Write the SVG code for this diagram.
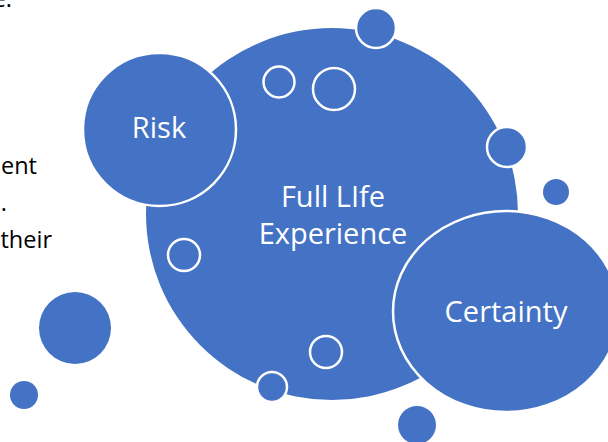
<svg xmlns="http://www.w3.org/2000/svg" width="608" height="442" viewBox="0 0 608 442">
  <style>
    .blob { fill: #4472C4; stroke: #FFFFFF; stroke-width: 2.5; }
    .ring { fill: none; stroke: #FFFFFF; stroke-width: 2.5; }
    .dot { fill: #4472C4; }
    .label { font-family: "Open Sans", "Liberation Sans", sans-serif; font-size: 29px; fill: #FFFFFF; text-anchor: middle; }
    .body { font-family: "Open Sans", "Liberation Sans", sans-serif; font-size: 23.5px; fill: #000000; text-anchor: end; }
  </style>
  <rect width="608" height="442" fill="#FFFFFF"/>

  <!-- body text running in from the left -->
  <g id="side-text">
    <text class="body" x="12" y="7">e.</text>
    <text class="body" x="37" y="174">ent</text>
    <text class="body" x="7" y="211">.</text>
    <text class="body" x="52" y="248">their</text>
  </g>

  <!-- loose decorative dots -->
  <g id="dots">
    <circle class="dot" cx="75" cy="328" r="36"/>
    <circle class="dot" cx="24" cy="395" r="14"/>
    <circle class="dot" cx="556" cy="192" r="13"/>
    <circle class="dot" cx="417" cy="425" r="19"/>
  </g>

  <g id="experience">
    <circle class="blob" cx="332" cy="214" r="186" style="stroke:none"/>
    <text class="label" x="333" y="207">Full LIfe</text>
    <text class="label" x="333" y="244">Experience</text>
  </g>

  <g id="bubbles">
    <circle class="blob" cx="376" cy="28" r="20"/>
    <circle class="blob" cx="507" cy="147" r="20"/>
    <circle class="blob" cx="272" cy="387" r="15"/>
    <circle class="ring" cx="279" cy="82" r="15.5"/>
    <circle class="ring" cx="334" cy="89" r="21"/>
    <circle class="ring" cx="184" cy="255" r="16"/>
    <circle class="ring" cx="326" cy="352" r="16"/>
  </g>

  <g id="risk">
    <circle class="blob" cx="159.5" cy="129.5" r="76.5"/>
    <text class="label" x="159" y="138">Risk</text>
  </g>

  <g id="certainty">
    <ellipse class="blob" cx="506" cy="311.5" rx="113" ry="100.5"/>
    <text class="label" x="506" y="322">Certainty</text>
  </g>

  <g id="connectors"/>
</svg>
